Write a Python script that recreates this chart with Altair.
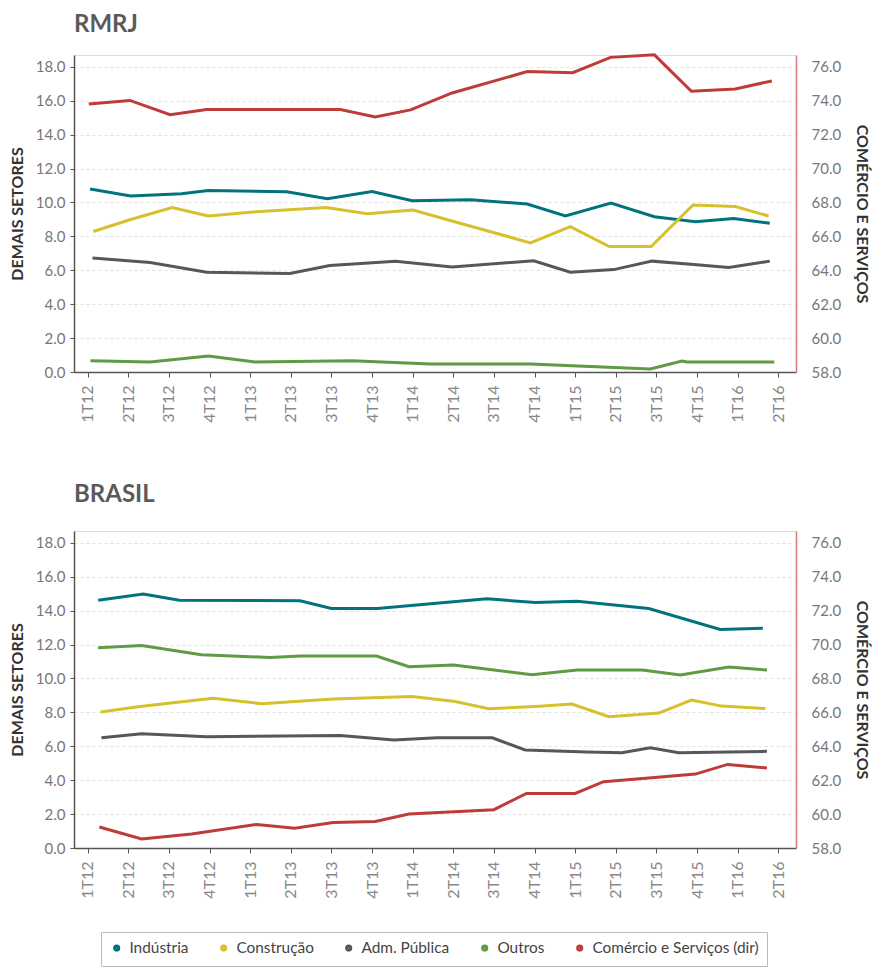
import altair as alt
import pandas as pd

quarters = ["1T12", "2T12", "3T12", "4T12", "1T13", "2T13", "3T13", "4T13", "1T14",
            "2T14", "3T14", "4T14", "1T15", "2T15", "3T15", "4T15", "1T16", "2T16"]
series_names = ["Indústria", "Construção", "Adm. Pública", "Outros", "Comércio e Serviços (dir)"]
series_colors = ["#00737f", "#d6c02c", "#555759", "#5f9a44", "#bf3b37"]
COM = "Comércio e Serviços (dir)"

# ---- RMRJ (x = quarter index, values in %)
rmrj_ind_x = [0.06, 1.06, 2.31, 2.97, 4.90, 5.90, 7.00, 7.99, 9.42, 10.82, 11.76, 12.88, 13.95, 14.96, 15.90, 16.79]
rmrj_ind_y = [10.79, 10.38, 10.51, 10.71, 10.63, 10.22, 10.65, 10.10, 10.16, 9.91, 9.20, 9.96, 9.16, 8.86, 9.05, 8.78]
rmrj_con_x = [0.14, 1.04, 2.08, 2.97, 4.24, 5.88, 6.88, 8.01, 9.01, 10.90, 11.88, 12.84, 13.87, 14.90, 15.94, 16.76]
rmrj_con_y = [8.29, 8.98, 9.70, 9.20, 9.47, 9.70, 9.33, 9.55, 8.88, 7.62, 8.58, 7.40, 7.40, 9.85, 9.76, 9.20]
rmrj_adm_x = [0.12, 1.54, 2.93, 4.98, 5.96, 7.58, 8.97, 10.98, 11.88, 12.95, 13.89, 14.92, 15.78, 16.79]
rmrj_adm_y = [6.72, 6.46, 5.89, 5.81, 6.28, 6.54, 6.20, 6.56, 5.89, 6.04, 6.54, 6.34, 6.16, 6.54]
rmrj_out_x = [0.07, 1.54, 2.97, 4.12, 6.51, 8.44, 10.90, 13.85, 14.63, 14.75, 16.90]
rmrj_out_y = [0.67, 0.59, 0.95, 0.59, 0.67, 0.47, 0.47, 0.18, 0.65, 0.59, 0.59]
rmrj_com_x = [0.03, 1.04, 2.03, 2.93, 6.22, 7.08, 7.95, 8.97, 10.82, 11.94, 12.87, 13.95, 14.86, 15.94, 16.84]
rmrj_com_y = [73.81, 74.02, 73.18, 73.48, 73.48, 73.04, 73.46, 74.46, 75.72, 75.66, 76.56, 76.71, 74.56, 74.70, 75.17]

# ---- BRASIL
br_ind_x = [0.26, 1.37, 2.26, 5.23, 6.00, 7.13, 9.83, 11.02, 12.05, 13.81, 15.57, 16.62]
br_ind_y = [14.62, 14.98, 14.62, 14.58, 14.13, 14.13, 14.70, 14.48, 14.56, 14.13, 12.89, 12.97]
br_con_x = [0.32, 1.29, 3.08, 4.28, 6.04, 7.99, 9.05, 9.87, 11.02, 11.92, 12.83, 14.06, 14.86, 15.61, 16.68]
br_con_y = [8.02, 8.35, 8.84, 8.51, 8.79, 8.94, 8.64, 8.21, 8.35, 8.49, 7.74, 7.96, 8.73, 8.37, 8.23]
br_adm_x = [0.34, 1.33, 2.93, 6.22, 7.54, 8.60, 9.96, 10.77, 12.29, 13.15, 13.85, 14.55, 16.72]
br_adm_y = [6.50, 6.74, 6.56, 6.64, 6.37, 6.50, 6.50, 5.78, 5.66, 5.62, 5.91, 5.62, 5.70]
br_out_x = [0.26, 1.33, 2.80, 4.49, 5.23, 7.11, 7.91, 9.01, 10.94, 12.05, 13.65, 14.59, 15.78, 16.72]
br_out_y = [11.81, 11.95, 11.40, 11.24, 11.32, 11.32, 10.69, 10.79, 10.22, 10.50, 10.50, 10.20, 10.67, 10.50]
br_com_x = [0.29, 1.33, 2.56, 4.16, 5.10, 6.04, 7.08, 7.91, 10.00, 10.80, 12.00, 12.70, 13.81, 14.96, 15.75, 16.72]
br_com_y = [59.24, 58.53, 58.83, 59.39, 59.16, 59.51, 59.57, 60.00, 60.26, 61.22, 61.22, 61.91, 62.13, 62.36, 62.93, 62.72]

left_ticks = [0, 2, 4, 6, 8, 10, 12, 14, 16, 18]
right_ticks = [58, 60, 62, 64, 66, 68, 70, 72, 74, 76]

rows = []
def add(panel, serie, xs, ys):
    for i, (a, b) in enumerate(zip(xs, ys)):
        rows.append({"panel": panel, "serie": serie, "x": a, "v": b, "i": i})

add("RMRJ", "Indústria", rmrj_ind_x, rmrj_ind_y)
add("RMRJ", "Construção", rmrj_con_x, rmrj_con_y)
add("RMRJ", "Adm. Pública", rmrj_adm_x, rmrj_adm_y)
add("RMRJ", "Outros", rmrj_out_x, rmrj_out_y)
add("RMRJ", COM, rmrj_com_x, rmrj_com_y)
add("BRASIL", "Indústria", br_ind_x, br_ind_y)
add("BRASIL", "Construção", br_con_x, br_con_y)
add("BRASIL", "Adm. Pública", br_adm_x, br_adm_y)
add("BRASIL", "Outros", br_out_x, br_out_y)
add("BRASIL", COM, br_com_x, br_com_y)
df = pd.DataFrame(rows)

FONT = "Lato"
label_expr = "[" + ",".join("'" + q + "'" for q in quarters) + "][datum.value]"

x_enc = alt.X(
    "x:Q",
    scale=alt.Scale(domain=[-0.335, 17.435], nice=False, zero=False),
    axis=alt.Axis(values=list(range(len(quarters))), labelExpr=label_expr, labelAngle=-90,
                  title=None, grid=False, domainColor="#555555", domainWidth=1.5,
                  tickColor="#555555", tickSize=5, labelPadding=8, labelFont=FONT,
                  labelFontSize=16, labelColor="#888888"),
)
color_enc = alt.Color("serie:N", scale=alt.Scale(domain=series_names, range=series_colors),
                      legend=alt.Legend(title=None, orient="none", direction="horizontal",
                                        legendX=27, legendY=877, symbolType="circle",
                                        symbolSize=10, symbolStrokeWidth=4, labelFont=FONT,
                                        labelFontSize=15.4, labelColor="#444444", labelOffset=5,
                                        labelLimit=400, columnPadding=25, padding=8,
                                        strokeColor="#bbbbbb", fillColor="white"))


def panel(name, offset):
    base = alt.Chart(df[df.panel == name])
    left = base.transform_filter(alt.datum.serie != COM).mark_line(strokeWidth=3).encode(
        x=x_enc,
        y=alt.Y("v:Q", scale=alt.Scale(domain=[0, 18.7], nice=False),
                axis=alt.Axis(orient="left", values=left_ticks, format=".1f",
                              title="DEMAIS SETORES", titleFont=FONT, titleFontSize=16,
                              titleFontWeight="bold", titleColor="#333333", titlePadding=10,
                              grid=True, gridDash=[3, 3], gridColor="#e2e2e2",
                              domainColor="#555555", domainWidth=1.5, tickColor="#555555",
                              tickSize=4, labelPadding=5, labelFont=FONT, labelFontSize=15,
                              labelColor="#777777")),
        color=color_enc,
        order="i:Q",
    )
    right = base.transform_filter(alt.datum.serie == COM).mark_line(strokeWidth=3).encode(
        x=x_enc,
        y=alt.Y("v:Q", scale=alt.Scale(domain=[58, 76.7], nice=False, zero=False),
                axis=alt.Axis(orient="right", values=right_ticks, format=".1f",
                              title="COMÉRCIO E SERVIÇOS", titleFont=FONT, titleFontSize=16,
                              titleFontWeight="bold", titleColor="#333333", titlePadding=13,
                              grid=False, domainColor="#d9787a", domainWidth=1.5, ticks=False,
                              labelPadding=15, labelFont=FONT, labelFontSize=15,
                              labelColor="#777777")),
        color=color_enc,
        order="i:Q",
    )
    return alt.layer(left, right).resolve_scale(y="independent").properties(
        width=722, height=317,
        title=alt.TitleParams(name, anchor="start", frame="group", font=FONT, fontSize=24,
                              fontWeight="bold", color="#5a5a5a", offset=offset),
    )


chart = alt.vconcat(panel("RMRJ", 12), panel("BRASIL", 24), spacing=59).configure_view(
    stroke=None
).configure(font=FONT).properties(padding={"left": 0, "top": 4, "right": 3, "bottom": 0})

chart.save("out.html", embed_options={"renderer": "svg", "actions": False})
